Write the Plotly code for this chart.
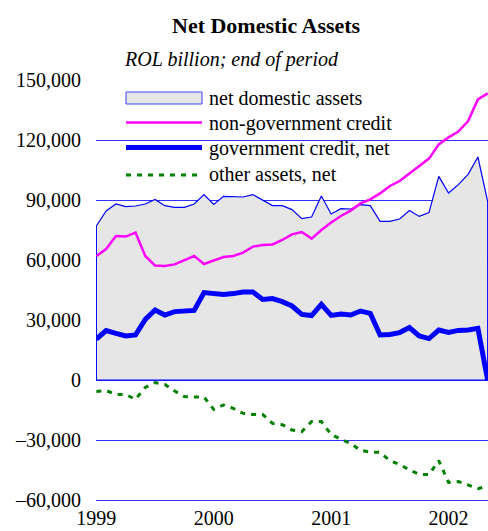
import plotly.graph_objects as go

# ---------------- data (ROL billion, end of month, Jan 1999 = month 0) ----------------
months = list(range(41))
net_domestic_assets = [77000, 84500, 88000, 86700, 87000, 88000, 90300, 87150, 86300, 86300,
                       88000, 92700, 87800, 91800, 91700, 91500, 92700, 90000, 87200, 87200,
                       85200, 80700, 81500, 92000, 83000, 85700, 85500, 87700, 87200, 79300,
                       79300, 80500, 84700, 81800, 83700, 101800, 93500, 97700, 102800, 111500,
                       89200]
non_government_credit = [62000, 65500, 72000, 71700, 73700, 62000, 57200, 57000, 57800, 59700,
                         62000, 58000, 59700, 61500, 62000, 63700, 66700, 67500, 67800, 70000,
                         72800, 74000, 70700, 75000, 78800, 82000, 84700, 88300, 90300, 93300,
                         97000, 99500, 103300, 107000, 110700, 117800, 121300, 124200, 129500, 140300,
                         143300]
government_credit = [20500, 24700, 23300, 22000, 22500, 30300, 35000, 32500, 34200, 34700,
                     34800, 43700, 43200, 42700, 43200, 44000, 44000, 40300, 40700, 39200,
                     37000, 32800, 32200, 37800, 32300, 33000, 32500, 34500, 33300, 22500,
                     22800, 23700, 26200, 22000, 20700, 25000, 23800, 24800, 25000, 25800,
                     0]
other_assets = [-5800, -5300, -7200, -7200, -9700, -3700, -1300, -2200, -5500, -8300,
                -8500, -8500, -14700, -12500, -14200, -16700, -17200, -17200, -21700, -22300,
                -25000, -25800, -20800, -20800, -27200, -29700, -31700, -35200, -36000, -36200,
                -40300, -42200, -45000, -47200, -47200, -40300, -51200, -50800, -52500, -54300,
                -53000]
year_ticks = [1999, 2000, 2001, 2002]
year_labels = ["1999", "2000", "2001", "2002"]
y_ticks = [-60000, -30000, 0, 30000, 60000, 90000, 120000, 150000]
y_labels = ["\u201360,000", "\u201330,000", "0", "30,000", "60,000", "90,000", "120,000", "150,000"]
series_names = ["net domestic assets", "non-government credit", "government credit, net", "other assets, net"]

FONT = "Liberation Serif, Times New Roman, serif"
W, H = 488, 531
L, R, T, B = 96, 0, 80, 29   # plot spans y 80..502 (range padded 1000 below -60,000)

x = [1999 + m / 12 for m in months]

fig = go.Figure()
# area (closed polygon with border)
fig.add_trace(go.Scatter(
    x=[x[0]] + x + [x[-1], x[0]],
    y=[0] + net_domestic_assets + [0, 0],
    mode="lines", fill="toself", fillcolor="#e6e6e6",
    line=dict(color="#0000ff", width=1.2), showlegend=False, hoverinfo="skip"))
fig.add_trace(go.Scatter(x=x, y=non_government_credit, mode="lines",
                         line=dict(color="#ff00ff", width=2.5), showlegend=False))
fig.add_trace(go.Scatter(x=x, y=government_credit, mode="lines",
                         line=dict(color="#0000ff", width=5), showlegend=False))
fig.add_trace(go.Scatter(x=x, y=other_assets, mode="lines",
                         line=dict(color="#008000", width=3, dash="5px,6px"), showlegend=False))

pw, ph = W - L - R, H - T - B


def px(v):
    return (v - L) / pw


def py(v):
    return (H - B - v) / ph


shapes = [
    dict(type="rect", xref="paper", yref="paper", x0=px(104), x1=px(410), y0=py(192), y1=py(84),
         fillcolor="white", line=dict(width=0), layer="between"),
    dict(type="rect", xref="paper", yref="paper", x0=px(126), x1=px(202), y0=py(104), y1=py(92),
         fillcolor="#e6e6e6", line=dict(color="#4040ff", width=1), layer="above"),
    dict(type="line", xref="paper", yref="paper", x0=px(126), x1=px(202), y0=py(122.5), y1=py(122.5),
         line=dict(color="#ff00ff", width=2.5), layer="above"),
    dict(type="line", xref="paper", yref="paper", x0=px(126), x1=px(202), y0=py(147.5), y1=py(147.5),
         line=dict(color="#0000ff", width=5), layer="above"),
    dict(type="line", xref="paper", yref="paper", x0=px(126), x1=px(202), y0=py(175), y1=py(175),
         line=dict(color="#008000", width=3, dash="5px,6px"), layer="above"),
]

annotations = []
for name, yc in zip(series_names, [98, 123, 148, 174]):
    annotations.append(dict(text=name, xref="paper", yref="paper", x=px(207), y=py(yc),
                            xanchor="left", yanchor="middle", showarrow=False,
                            font=dict(family=FONT, size=20, color="black")))
annotations.append(dict(text="<b>Net Domestic Assets</b>", xref="paper", yref="paper",
                        x=px(266), y=py(25), xanchor="center", yanchor="middle", showarrow=False,
                        font=dict(family=FONT, size=22, color="black")))
annotations.append(dict(text="<i>ROL billion; end of period</i>", xref="paper", yref="paper",
                        x=px(122), y=py(60), xanchor="left", yanchor="middle", showarrow=False,
                        font=dict(family=FONT, size=20, color="black")))

fig.update_layout(
    width=W, height=H, margin=dict(l=L, r=R, t=T, b=B, pad=0, autoexpand=False),
    paper_bgcolor="white", plot_bgcolor="white",
    shapes=shapes, annotations=annotations, showlegend=False,
    font=dict(family=FONT, size=20, color="black"),
)
fig.update_xaxes(range=[1998.997, 2002.336], tickvals=year_ticks, ticktext=year_labels,
                 showgrid=False, zeroline=False, showline=False, ticks="", automargin=False,
                 tickfont=dict(family=FONT, size=20, color="black"), ticklabelstandoff=2)
fig.update_yaxes(range=[-61000, 150000], tickvals=y_ticks, ticktext=y_labels, automargin=False,
                 showgrid=True, gridcolor="#3030ff", gridwidth=1, zeroline=False, showline=False,
                 ticks="", tickfont=dict(family=FONT, size=20, color="black"), ticklabelstandoff=14)

fig.write_html("out.html")
